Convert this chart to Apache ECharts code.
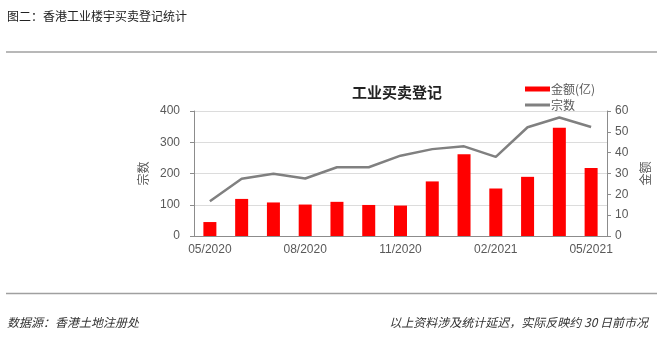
<!DOCTYPE html>
<html>
<head>
<meta charset="utf-8">
<script src="https://cdn.jsdelivr.net/npm/echarts@6/dist/echarts.min.js"></script>
<style>
  html, body { margin: 0; padding: 0; background: #fff; }
  #chart { width: 672px; height: 337px; }
</style>
</head>
<body>
<div id="chart"></div>
<script>
// Monthly industrial property transactions, Hong Kong
const months = ['05/2020', '06/2020', '07/2020', '08/2020', '09/2020', '10/2020', '11/2020',
                '12/2020', '01/2021', '02/2021', '03/2021', '04/2021', '05/2021'];
// Transaction value, HK$ 100 million (right axis)
const amountValues = [6.7, 17.8, 16.1, 15.1, 16.4, 14.9, 14.6, 26.2, 39.2, 22.8, 28.4, 52.0, 32.7];
// Number of transactions (left axis)
const countValues = [111, 183, 199, 184, 220, 220, 257, 278, 287, 253, 348, 379, 349];
const countTicks = { min: 0, max: 400, interval: 100 };
const amountTicks = { min: 0, max: 60, interval: 10 };

const FONT = '"Noto Sans CJK SC", "Liberation Sans", sans-serif';
const AXIS_GRAY = '#8c8c8c';
const LABEL_GRAY = '#595959';
const LINE_GRAY = '#808080';

const chart = echarts.init(document.getElementById('chart'), null, { renderer: 'canvas' });

chart.setOption({
  animation: false,
  backgroundColor: '#fff',
  textStyle: { fontFamily: FONT },
  grid: { left: 194, right: 65, top: 111, bottom: 101, containLabel: false },
  legend: {
    orient: 'vertical',
    left: 520,
    top: 78,
    itemWidth: 25,
    itemHeight: 5,
    itemGap: 4,
    symbolKeepAspect: true,
    textStyle: { fontSize: 12, color: LABEL_GRAY, fontFamily: FONT, padding: [0, 0, 0, -4] },
    data: [
      { name: '金额(亿)', icon: 'rect' },
      { name: '宗数', icon: 'path://M0,0H25V3H0Z', itemStyle: { color: LINE_GRAY } }
    ]
  },
  xAxis: {
    type: 'category',
    data: months,
    boundaryGap: true,
    axisLine: { lineStyle: { color: AXIS_GRAY, width: 1 } },
    axisTick: { interval: 2, length: 4, lineStyle: { color: AXIS_GRAY } },
    axisLabel: { interval: 2, margin: 8, fontSize: 12, color: LABEL_GRAY, fontFamily: '"Liberation Sans", sans-serif' }
  },
  yAxis: [
    {
      type: 'value',
      min: countTicks.min, max: countTicks.max, interval: countTicks.interval,
      name: '宗数',
      nameLocation: 'middle',
      nameRotate: 90,
      nameGap: 44,
      nameTextStyle: { fontSize: 12, color: LABEL_GRAY, fontFamily: FONT },
      axisLine: { show: true, lineStyle: { color: AXIS_GRAY } },
      axisTick: { show: true, length: 4, lineStyle: { color: AXIS_GRAY } },
      axisLabel: { margin: 14, fontSize: 12, color: LABEL_GRAY, fontFamily: '"Liberation Sans", sans-serif' },
      splitLine: { show: true, lineStyle: { color: '#dcdcdc', width: 1 } }
    },
    {
      type: 'value',
      min: amountTicks.min, max: amountTicks.max, interval: amountTicks.interval,
      name: '金额',
      nameLocation: 'middle',
      nameRotate: 90,
      nameGap: 32,
      nameTextStyle: { fontSize: 12, color: LABEL_GRAY, fontFamily: FONT },
      axisLine: { show: true, lineStyle: { color: AXIS_GRAY } },
      axisTick: { show: true, length: 4, lineStyle: { color: AXIS_GRAY } },
      axisLabel: { margin: 8, fontSize: 12, color: LABEL_GRAY, fontFamily: '"Liberation Sans", sans-serif' },
      splitLine: { show: false }
    }
  ],
  series: [
    {
      name: '金额(亿)',
      type: 'bar',
      yAxisIndex: 1,
      data: amountValues,
      barWidth: 13,
      itemStyle: { color: '#ff0000' }
    },
    {
      name: '宗数',
      type: 'line',
      yAxisIndex: 0,
      data: countValues,
      symbol: 'none',
      lineStyle: { color: LINE_GRAY, width: 2.5 },
      itemStyle: { color: LINE_GRAY },
      z: 3
    }
  ],
  graphic: [
    {
      type: 'text', left: 7, top: 10,
      style: { text: '图二：香港工业楼宇买卖登记统计', fontSize: 12, fill: '#222', fontFamily: FONT }
    },
    {
      type: 'line',
      shape: { x1: 6, y1: 52, x2: 657, y2: 52 },
      style: { stroke: '#a0a0a0', lineWidth: 1.5 }
    },
    {
      type: 'text',
      x: 397, y: 92,
      style: {
        text: '工业买卖登记', fontSize: 15, fontWeight: 'bold', fill: '#222',
        fontFamily: FONT, align: 'center', verticalAlign: 'middle'
      }
    },
    {
      type: 'line',
      shape: { x1: 6, y1: 293.5, x2: 657, y2: 293.5 },
      style: { stroke: '#a0a0a0', lineWidth: 1.5 }
    },
    {
      type: 'text', x: 7, y: 322,
      style: {
        text: '数据源：香港土地注册处', fontSize: 12, fontStyle: 'italic', fill: '#333',
        fontFamily: FONT, verticalAlign: 'middle'
      }
    },
    {
      type: 'text', x: 648, y: 322,
      style: {
        text: '以上资料涉及统计延迟，实际反映约 30 日前市况', fontSize: 12, fontStyle: 'italic', fill: '#333',
        fontFamily: FONT, align: 'right', verticalAlign: 'middle'
      }
    }
  ]
});
</script>
</body>
</html>
